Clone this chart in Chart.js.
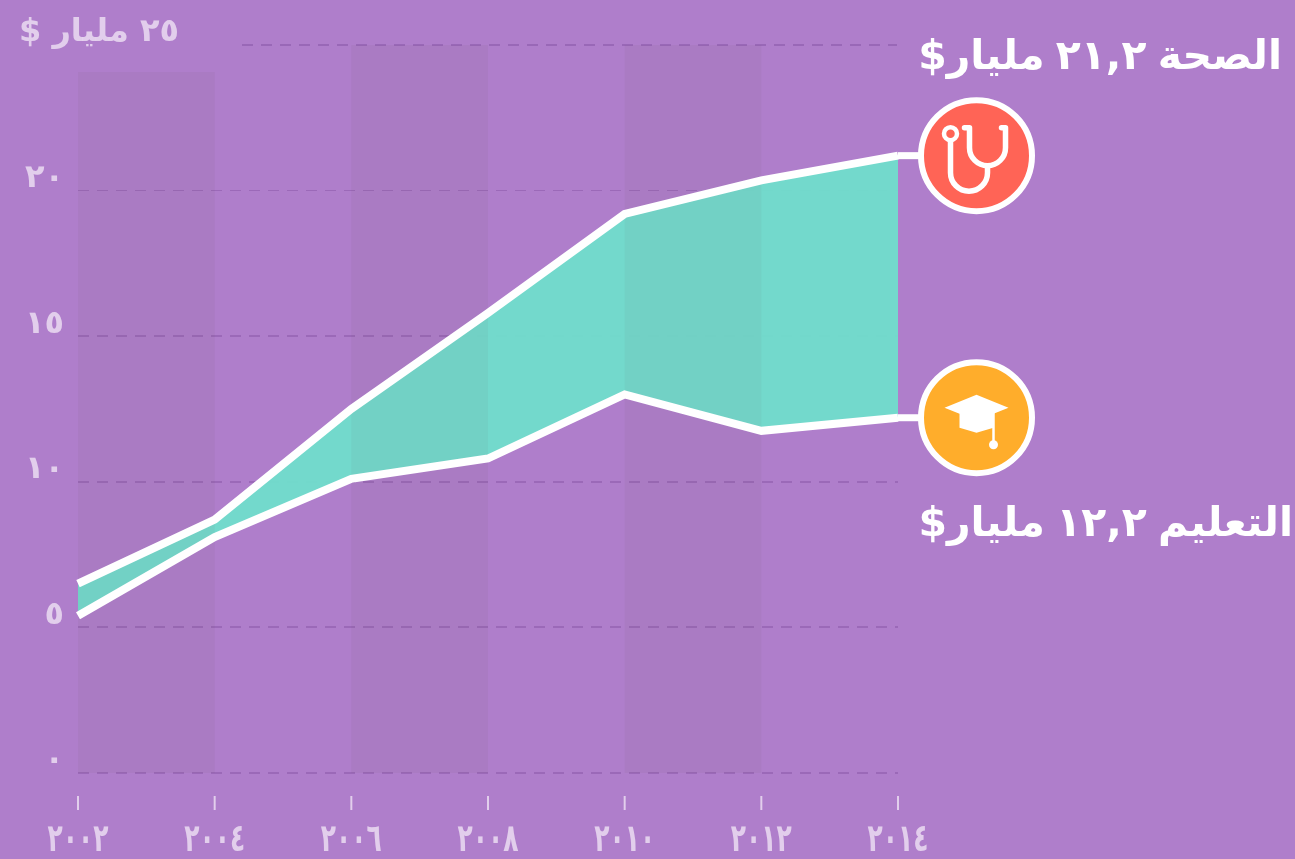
<!DOCTYPE html>
<html><head><meta charset="utf-8">
<script src="https://cdn.jsdelivr.net/npm/chart.js@4"></script>
<style>html,body{margin:0;padding:0;background:#AF7ECB;overflow:hidden}canvas{display:block}</style>
</head><body>
<div style="width:1295px;height:859px"><canvas id="c" width="1295" height="859"></canvas></div>
<script>
const years = ['٢٠٠٢','٢٠٠٤','٢٠٠٦','٢٠٠٨','٢٠١٠','٢٠١٢','٢٠١٤'];
const health = [6.5, 8.7, 12.5, 15.8, 19.2, 20.35, 21.2];
const education = [5.4, 8.1, 10.1, 10.8, 13.0, 11.75, 12.2];
const yTickLabels = {0:'٠',5:'٥',10:'١٠',15:'١٥',20:'٢٠'};
const yTitle = '٢٥ مليار $';
const healthLabel = 'الصحة ٢١,٢ مليار$';
const eduLabel = 'التعليم ١٢,٢ مليار$';
const shadedFrom = [0, 2, 4];

const FONT = '"DejaVu Sans"';
const overlay = {
  id:'overlay',
  beforeDatasetsDraw(chart){
    const {ctx,scales:{x,y}} = chart;
    ctx.save();
    ctx.fillStyle='rgba(100,65,66,0.055)';
    shadedFrom.forEach((i,k)=>{
      const a=x.getPixelForTick(i), b=x.getPixelForTick(i+1);
      const top = k===0 ? 72 : y.getPixelForValue(25);
      ctx.fillRect(a,top,b-a,y.getPixelForValue(0)-top);
    });
    ctx.restore();
  },
  afterDatasetsDraw(chart){
    const {ctx,scales:{x,y}} = chart;
    ctx.save();
    ctx.strokeStyle='rgba(125,75,155,0.42)';ctx.lineWidth=2;ctx.setLineDash([11,8]);
    ctx.beginPath();ctx.moveTo(242,y.getPixelForValue(25));ctx.lineTo(897,y.getPixelForValue(25));ctx.stroke();
    ctx.setLineDash([]);
    ctx.strokeStyle='rgba(235,220,242,0.85)';ctx.lineWidth=2;
    ctx.fillStyle='rgba(232,215,240,0.9)';ctx.font='bold 32px '+FONT;ctx.textAlign='center';ctx.textBaseline='middle';
    years.forEach((lab,i)=>{
      const p=x.getPixelForTick(i);
      ctx.beginPath();ctx.moveTo(p,796);ctx.lineTo(p,810);ctx.stroke();
      ctx.save();ctx.translate(p,841);ctx.scale(0.78,1.2);ctx.fillText(lab,0,0);ctx.restore();
    });
    ctx.direction='rtl';ctx.textBaseline='middle';ctx.textAlign='right';
    ctx.font='bold 32px '+FONT;ctx.fillStyle='rgba(232,215,240,0.9)';
    ctx.fillText(yTitle,179,33);
    const last=years.length-1, ex=x.getPixelForTick(last);
    [[health[last],'#FF6456',healthLabel,1282,58,drawSteth],[education[last],'#FFAD2B',eduLabel,1293,525,drawCap]].forEach(([v,col,lab,tx,ty,icon])=>{
      const cy=y.getPixelForValue(v), cx=ex+78.5;
      ctx.strokeStyle='#fff';ctx.lineWidth=7;
      ctx.beginPath();ctx.moveTo(ex,cy);ctx.lineTo(cx-50,cy);ctx.stroke();
      ctx.beginPath();ctx.arc(cx,cy,55.5,0,Math.PI*2);ctx.fillStyle=col;ctx.fill();
      ctx.lineWidth=6;ctx.stroke();
      icon(ctx,cx,cy);
      ctx.font='bold 41px '+FONT;ctx.fillStyle='#fff';ctx.direction='rtl';ctx.textAlign='right';
      ctx.wordSpacing='-3px';
      ctx.fillText(lab,tx,ty);
      ctx.wordSpacing='0px';
    });
    ctx.restore();
  }
};
function drawSteth(ctx,cx,cy){
  ctx.save();ctx.translate(cx,cy);ctx.strokeStyle='#fff';ctx.lineWidth=5.5;ctx.lineCap='round';ctx.lineJoin='round';
  ctx.beginPath();ctx.moveTo(-12,-28);ctx.lineTo(-7,-28);ctx.lineTo(-7,-8);ctx.arc(11,-8,18,Math.PI,0,true);ctx.lineTo(29,-28);ctx.lineTo(25,-28);ctx.stroke();
  ctx.beginPath();ctx.moveTo(-26,-15);ctx.lineTo(-26,17);ctx.arc(-7.5,17,18.5,Math.PI,0,true);ctx.lineTo(11,10);ctx.stroke();
  ctx.beginPath();ctx.arc(-26,-22,6.5,0,Math.PI*2);ctx.lineWidth=4.5;ctx.stroke();
  ctx.restore();
}
function drawCap(ctx,cx,cy){
  ctx.save();ctx.translate(cx,cy);ctx.fillStyle='#fff';ctx.strokeStyle='#fff';
  ctx.beginPath();ctx.moveTo(0,-23);ctx.lineTo(32,-10);ctx.lineTo(17,-4);ctx.lineTo(17,10);ctx.lineTo(0,15);ctx.lineTo(-17,10);ctx.lineTo(-17,-4);ctx.lineTo(-32,-10);ctx.closePath();ctx.fill();
  ctx.lineWidth=2.5;ctx.beginPath();ctx.moveTo(17,-5);ctx.lineTo(17,25);ctx.stroke();
  ctx.beginPath();ctx.arc(17,27,4.5,0,Math.PI*2);ctx.fill();
  ctx.restore();
}
new Chart(document.getElementById('c'),{
  type:'line',
  data:{labels:years,datasets:[
    {label:'الصحة',data:health,borderColor:'#fff',borderWidth:8,pointRadius:0,tension:0,fill:1,backgroundColor:'rgba(112,222,203,0.95)',borderCapStyle:'butt',borderJoinStyle:'miter'},
    {label:'التعليم',data:education,borderColor:'#fff',borderWidth:8,pointRadius:0,tension:0,fill:false,borderCapStyle:'butt',borderJoinStyle:'miter'}
  ]},
  options:{
    responsive:false,animation:false,devicePixelRatio:1,
    layout:{autoPadding:false,padding:{top:45,right:397,left:0,bottom:0}},
    plugins:{legend:{display:false},tooltip:{enabled:false},filler:{propagate:false,drawTime:'beforeDatasetsDraw'}},
    scales:{
      x:{type:'category',offset:false,grid:{display:false},border:{display:false},
         afterFit(s){s.height=86;},
         ticks:{display:false,maxRotation:0,autoSkip:false}},
      y:{min:0,max:25,afterFit(s){s.width=78;},
         border:{display:false,dash:[11,8]},
         grid:{color:c=>c.tick&&c.tick.value===25?'rgba(0,0,0,0)':'rgba(125,75,155,0.4)',lineWidth:c=>c.tick&&c.tick.value===20?1:2,drawTicks:false},
         ticks:{stepSize:5,color:'rgba(232,215,240,0.9)',font:{family:FONT,size:32,weight:'bold'},padding:14,labelOffset:-12,
                callback:v=>yTickLabels[v]||''}}
    }
  },
  plugins:[overlay]
});
</script>
</body></html>
